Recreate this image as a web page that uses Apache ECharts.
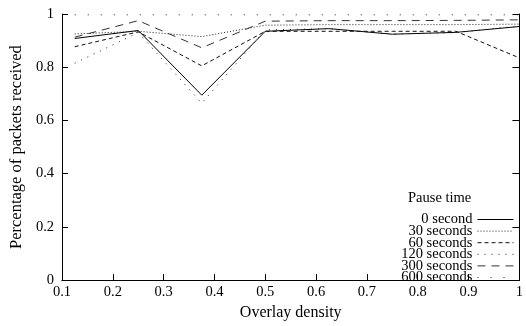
<!DOCTYPE html>
<html><head><meta charset="utf-8">
<script src="https://cdn.jsdelivr.net/npm/echarts@6/dist/echarts.min.js"></script>
<style>html,body{margin:0;padding:0;background:#fff}#c{width:526px;height:326px}</style>
</head><body><div id="c"></div>
<script>
// Overlay density (x) values
const density = [0.125, 0.25, 0.375, 0.5, 0.625, 0.75, 0.875, 1.0];
const seriesNames = ['0 second', '30 seconds', '60 seconds', '120 seconds', '300 seconds', '600 seconds'];
const pause0   = [0.908, 0.938, 0.695, 0.935, 0.945, 0.924, 0.931, 0.953];
const pause30  = [0.925, 0.935, 0.915, 0.958, 0.960, 0.960, 0.960, 0.962];
const pause60  = [0.877, 0.933, 0.805, 0.935, 0.935, 0.935, 0.935, 0.835];
const pause120 = [0.815, 0.930, 0.665, 0.940, 0.945, 0.925, 0.930, 0.955];
const pause300 = [0.913, 0.975, 0.873, 0.973, 0.975, 0.975, 0.976, 0.978];
const pause600 = [0.997, 0.997, 0.997, 0.997, 0.997, 0.997, 0.997, 0.997];
const legendTitle = 'Pause time';
const xName = 'Overlay density';
const yName = 'Percentage of packets received';

const values = [pause0, pause30, pause60, pause120, pause300, pause600];
const styles = [
  {type: 'solid', color: '#000'},
  {type: [1, 2], color: '#222'},
  {type: [4, 3], color: '#111'},
  {type: [1, 6], color: '#222'},
  {type: [8, 6], color: '#333'},
  {type: [1, 12], color: '#222'}
];
const FONT = 'Liberation Serif';
const fmt = v => String(+(+v).toFixed(1));

// legend rows: first row centre and pitch (layout)
const LEG_TOP0 = 219, LEG_PITCH = 11.6;

const legends = seriesNames.map((n, i) => ({
  orient: 'vertical', right: 12, top: LEG_TOP0 + i * LEG_PITCH - 7, align: 'right',
  itemWidth: 36, itemHeight: 8, padding: 0,
  itemStyle: {opacity: 0},
  lineStyle: {width: 1},
  textStyle: {fontFamily: FONT, fontSize: 14.5, color: '#000'},
  data: [n]
}));

const chart = echarts.init(document.getElementById('c'), null, {renderer: 'canvas'});
chart.setOption({
  animation: false,
  backgroundColor: '#fff',
  grid: {left: 61, right: 0, top: 14, bottom: 37, containLabel: false},
  xAxis: [{
    type: 'value', min: 0.1, max: 1, interval: 0.1,
    name: xName, nameLocation: 'middle', nameGap: 21,
    nameTextStyle: {fontFamily: FONT, fontSize: 16, color: '#000'},
    axisLine: {show: true, lineStyle: {color: '#000', width: 1}},
    axisTick: {show: true, inside: true, length: 6, lineStyle: {color: '#000'}},
    axisLabel: {formatter: fmt, fontFamily: FONT, fontSize: 14.5, color: '#000', margin: 5},
    splitLine: {show: false}
  }, {
    type: 'value', min: 0.1, max: 1, interval: 0.1, position: 'top',
    axisLine: {show: true, lineStyle: {color: '#000', width: 1}},
    axisTick: {show: false}, axisLabel: {show: false}, splitLine: {show: false}
  }],
  yAxis: [{
    type: 'value', min: 0, max: 1, interval: 0.2,
    name: yName, nameLocation: 'middle', nameGap: 37,
    nameTextStyle: {fontFamily: FONT, fontSize: 16.5, color: '#000'},
    axisLine: {show: true, lineStyle: {color: '#000', width: 1}},
    axisTick: {show: true, inside: true, length: 6, lineStyle: {color: '#000'}},
    axisLabel: {formatter: fmt, fontFamily: FONT, fontSize: 14.5, color: '#000', margin: 8},
    splitLine: {show: false}
  }, {
    type: 'value', min: 0, max: 1, interval: 0.2, position: 'right',
    axisLine: {show: true, lineStyle: {color: '#000', width: 1}},
    axisTick: {show: true, inside: true, length: 7, lineStyle: {color: '#000'}},
    axisLabel: {show: false}, splitLine: {show: false}
  }],
  legend: legends,
  graphic: [{
    type: 'text', left: 408, top: 191,
    style: {text: legendTitle, font: '14.5px "Liberation Serif"', fill: '#000'}
  }],
  series: seriesNames.map((n, i) => ({
    name: n, type: 'line', symbol: 'none', xAxisIndex: 0, yAxisIndex: 0,
    data: density.map((x, j) => [x, values[i][j]]),
    lineStyle: {width: 1, type: styles[i].type, color: styles[i].color},
    itemStyle: {color: styles[i].color}
  }))
});
</script></body></html>
